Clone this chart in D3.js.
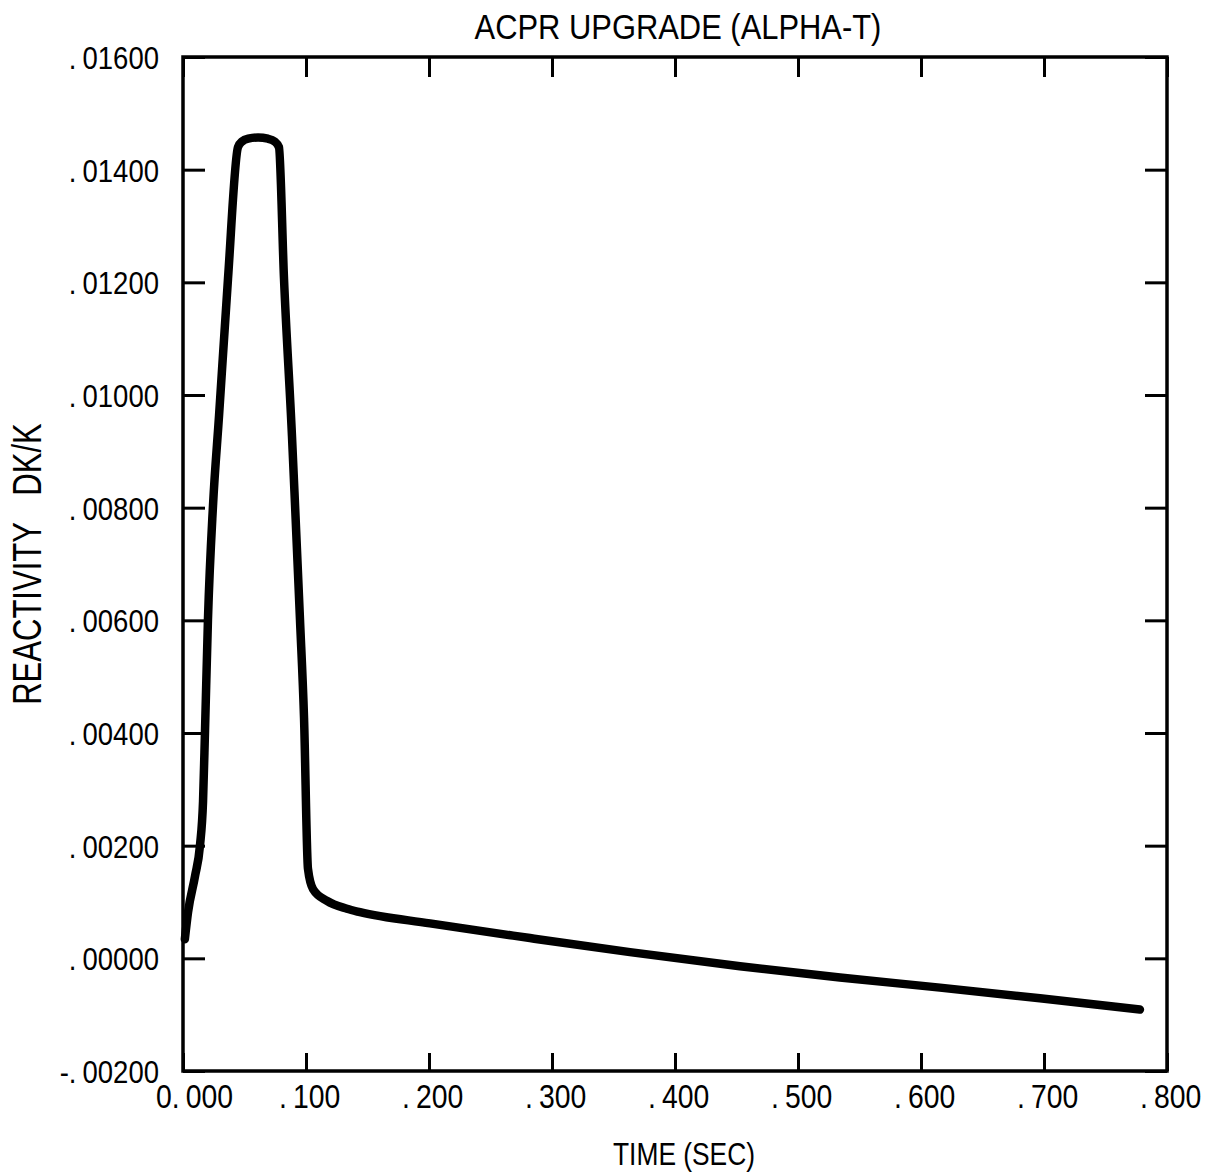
<!DOCTYPE html>
<html>
<head>
<meta charset="utf-8">
<script src="https://cdn.jsdelivr.net/npm/d3@7"></script>
<style>
  html, body { margin: 0; padding: 0; background: #fff; }
  svg { display: block; }
  text { font-family: "Liberation Sans", Arial, sans-serif; fill: #000; }
</style>
</head>
<body>
<svg id="chart" width="1213" height="1175"></svg>
<script>
// Reactivity transient, time in seconds vs reactivity in dk/k
const timeSec = [0.0015, 0.0041, 0.0098, 0.0138, 0.0163, 0.0179, 0.0203, 0.0244, 0.0293, 0.0366,
  0.0447, 0.0480, 0.0530, 0.0610, 0.0690, 0.0745, 0.0780, 0.0821, 0.0886, 0.0911, 0.0951,
  0.0984, 0.1016, 0.1057, 0.1171, 0.1333, 0.1439, 0.2008, 0.2821, 0.3634, 0.4528, 0.5341, 0.6154, 0.6967, 0.7780];
const reactivity = [0.00034, 0.00082, 0.00146, 0.00200, 0.00279, 0.00404, 0.00602, 0.00804, 0.00963, 0.01207,
  0.01440, 0.01450, 0.01455, 0.01457, 0.01455, 0.01450, 0.01440, 0.01207, 0.00927, 0.00804, 0.00602,
  0.00427, 0.00159, 0.00123, 0.00102, 0.00088, 0.00082, 0.00062, 0.00036, 0.00011, -0.00014, -0.00034, -0.00052, -0.00071, -0.00091];

const xTickValues = [0, 0.1, 0.2, 0.3, 0.4, 0.5, 0.6, 0.7, 0.8];
const xTickLabels = ["0.|000", ".|100", ".|200", ".|300", ".|400", ".|500", ".|600", ".|700", ".|800"];
const yTickValues = [-0.002, 0, 0.002, 0.004, 0.006, 0.008, 0.010, 0.012, 0.014, 0.016];
const yTickLabels = ["-.|00200", ".|00000", ".|00200", ".|00400", ".|00600", ".|00800", ".|01000", ".|01200", ".|01400", ".|01600"];

const titleText = "ACPR UPGRADE (ALPHA-T)";
const xTitle = "TIME (SEC)";
const yTitleParts = ["REACTIVITY", "DK/K"];

const svg = d3.select("#chart");
const margin = { left: 183, right: 1167, top: 57, bottom: 1071 };

const x = d3.scaleLinear().domain([0, 0.8]).range([margin.left, margin.right]);
const y = d3.scaleLinear().domain([-0.002, 0.016]).range([margin.bottom, margin.top]);

// Inward ticks on all four sides
function styleAxis(g) {
  g.select(".domain").remove();
  g.selectAll(".tick line").attr("stroke", "#000").attr("stroke-width", 3);
  g.selectAll(".tick text").remove();
}
svg.append("g").attr("transform", `translate(0,${margin.bottom})`)
  .call(d3.axisBottom(x).tickValues(xTickValues).tickSize(-18)).call(styleAxis);
svg.append("g").attr("transform", `translate(0,${margin.top})`)
  .call(d3.axisTop(x).tickValues(xTickValues).tickSize(-20)).call(styleAxis);
svg.append("g").attr("transform", `translate(${margin.left},0)`)
  .call(d3.axisLeft(y).tickValues(yTickValues).tickSize(-22)).call(styleAxis);
svg.append("g").attr("transform", `translate(${margin.right},0)`)
  .call(d3.axisRight(y).tickValues(yTickValues).tickSize(-22)).call(styleAxis);

// Frame
svg.append("rect")
  .attr("x", margin.left).attr("y", margin.top)
  .attr("width", margin.right - margin.left).attr("height", margin.bottom - margin.top)
  .attr("fill", "none").attr("stroke", "#000").attr("stroke-width", 3.5);

// Narrow lettering: text squeezed horizontally inside a positioned group
function narrowText(px, py, rotate, fontSize, anchor, build, sx) {
  const g = svg.append("g").attr("transform", `translate(${px},${py}) rotate(${rotate})`);
  const t = g.append("text").attr("font-size", fontSize).attr("text-anchor", anchor);
  build(t);
  t.attr("transform", `scale(${sx},1)`);
  return t;
}
function fitText(px, py, rotate, fontSize, anchor, build, width) {
  const t = narrowText(px, py, rotate, fontSize, anchor, build, 1);
  const w = t.node().getBBox().width;
  t.attr("transform", `scale(${width / w},1)`);
  return t;
}
// Tick labels: the decimal point sits in its own cell
function splitLabel(label) {
  return t => {
    const [a, b] = label.split("|");
    t.append("tspan").text(a);
    t.append("tspan").attr("dx", 7).text(b);
  };
}
const labelScale = 0.86;
xTickValues.forEach((v, i) => {
  narrowText(x(v) - 27, 1108, 0, 33, "start", splitLabel(xTickLabels[i]), labelScale);
});
yTickValues.forEach((v, i) => {
  narrowText(159, y(v) + 12, 0, 32, "end", splitLabel(yTickLabels[i]), labelScale);
});

// Titles
fitText(678, 39, 0, 35, "middle", t => t.text(titleText), 407);
fitText(684, 1165, 0, 32, "middle", t => t.text(xTitle), 142);
fitText(41, 564, -90, 40, "middle", t => {
  t.append("tspan").text(yTitleParts[0]);
  t.append("tspan").attr("dx", 34).text(yTitleParts[1]);
}, 282);

// Curve
const pts = timeSec.map((t, i) => [t, reactivity[i]]);
svg.append("path")
  .datum(pts)
  .attr("fill", "none").attr("stroke", "#000")
  .attr("stroke-width", 8.5).attr("stroke-linejoin", "round").attr("stroke-linecap", "round")
  .attr("d", d3.line().x(d => x(d[0])).y(d => y(d[1])).curve(d3.curveMonotoneX));
</script>
</body>
</html>
